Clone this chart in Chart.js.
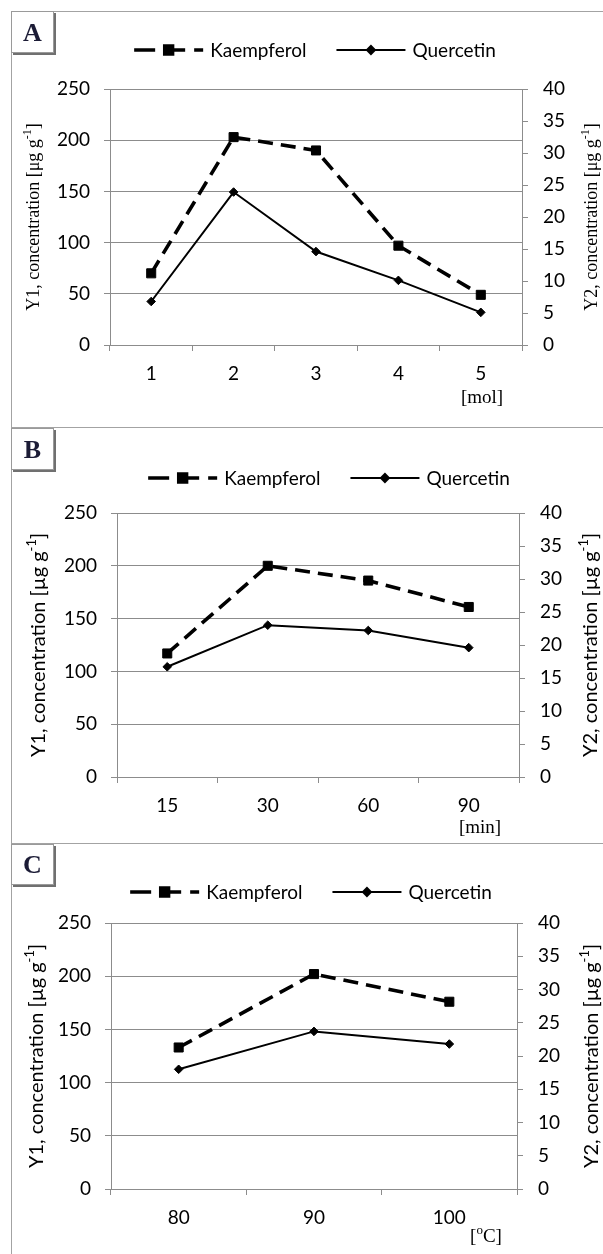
<!DOCTYPE html>
<html>
<head>
<meta charset="utf-8">
<title>Kaempferol and Quercetin concentration</title>
<script src="https://cdn.jsdelivr.net/npm/chart.js@4.4.1/dist/chart.umd.min.js"></script>
<style>
  body { margin: 0; background: #fff; }
  #page { position: relative; width: 603px; height: 1254px; overflow: hidden; background: #fff; }
  .panel { position: absolute; left: 0; width: 603px; }
  .panel canvas { display: block; }
  .rule { position: absolute; background: #a3a3a3; }
  .tag {
    position: absolute; left: 11px; width: 43px; box-sizing: border-box;
    border: 1px solid #9a9a9a; box-shadow: 2px 2px 0 #707070; background: #fff;
    font: bold 26px "Liberation Serif", serif; color: #1c1c36; text-align: center;
  }
</style>
</head>
<body>
<div id="page">
  <div class="panel" style="top:13px"><canvas id="chartA" width="603" height="413"></canvas></div>
  <div class="panel" style="top:428px"><canvas id="chartB" width="603" height="414"></canvas></div>
  <div class="panel" style="top:844px"><canvas id="chartC" width="603" height="410"></canvas></div>

  <div class="rule" style="left:11px;top:11px;width:1px;height:1243px"></div>
  <div class="rule" style="left:11px;top:11px;width:592px;height:1px"></div>
  <div class="rule" style="left:11px;top:427px;width:592px;height:1px"></div>
  <div class="rule" style="left:11px;top:843px;width:592px;height:1px"></div>

  <div class="tag" style="top:11px;height:42px;line-height:41px">A</div>
  <div class="tag" style="top:428px;height:42px;line-height:41px">B</div>
  <div class="tag" style="top:844px;height:41px;line-height:40px">C</div>
</div>

<script>
// Data
const seriesNames = ['Kaempferol', 'Quercetin'];

// A: molar concentration [mol]
const molLabels = ['1', '2', '3', '4', '5'];
const molKaempferol = [70, 203, 190, 97, 49];     // Y1
const molQuercetin = [6.8, 23.9, 14.6, 10.1, 5.1]; // Y2

// B: time [min]
const timeLabels = ['15', '30', '60', '90'];
const timeKaempferol = [117, 200, 186, 161];
const timeQuercetin = [16.7, 23.0, 22.2, 19.6];

// C: temperature [oC]
const tempLabels = ['80', '90', '100'];
const tempKaempferol = [133, 202, 176];
const tempQuercetin = [18.0, 23.7, 21.8];

// Axis ticks
const y1Ticks = [0, 50, 100, 150, 200, 250];
const y2Ticks = [0, 5, 10, 15, 20, 25, 30, 35, 40];

const SANS = 'Lato, "Open Sans", sans-serif';
const SERIF = '"Liberation Serif", "DejaVu Serif", serif';
const GRID = '#8c8c8c';

// split "abc^{-1}]" into normal / superscript pieces
function richParts(str) {
    return str.split(/(\^\{[^}]*\})/).filter(Boolean).map(function(s) {
        if (s.indexOf('^{') === 0) return { text: s.slice(2, -1), sup: true };
        return { text: s, sup: false };
    });
}

function drawRich(ctx, str, x, y, angle, family, size) {
    const parts = richParts(str);
    const small = Math.round(size * 0.66);
    let total = 0;
    parts.forEach(function(p) {
        ctx.font = (p.sup ? small : size) + 'px ' + family;
        p.w = ctx.measureText(p.text).width;
        total += p.w;
    });
    ctx.save();
    ctx.translate(x, y);
    ctx.rotate(angle);
    ctx.fillStyle = '#000';
    ctx.textBaseline = 'middle';
    ctx.textAlign = 'left';
    let cx = -total / 2;
    parts.forEach(function(p) {
        ctx.font = (p.sup ? small : size) + 'px ' + family;
        ctx.fillText(p.text, cx, p.sup ? -size * 0.36 : 0);
        cx += p.w;
    });
    ctx.restore();
}

// legend, rotated axis titles and unit label
const panelDecor = {
    id: 'panelDecor',
    afterDraw(chart, args, opts) {
        const ctx = chart.ctx;
        const area = chart.chartArea;
        const midY = (area.top + area.bottom) / 2;
        ctx.save();
        ctx.fillStyle = '#000';

        // legend
        const symW = 69, gapText = 7, gapItem = 30;
        ctx.font = opts.legendSize + 'px ' + SANS;
        const items = chart.data.datasets.map(function(ds) {
            return { ds: ds, w: ctx.measureText(ds.label).width };
        });
        let total = 0;
        items.forEach(function(it, i) { total += symW + gapText + it.w + (i ? gapItem : 0); });
        let x = opts.legendX - total / 2;
        const ly = opts.legendY;
        items.forEach(function(it) {
            const ds = it.ds;
            ctx.save();
            ctx.strokeStyle = ds.borderColor;
            ctx.lineWidth = ds.borderWidth;
            ctx.setLineDash(ds.legendDash || []);
            ctx.beginPath();
            ctx.moveTo(x, ly);
            ctx.lineTo(x + symW, ly);
            ctx.stroke();
            ctx.setLineDash([]);
            ctx.fillStyle = ds.pointBackgroundColor;
            ctx.strokeStyle = ds.pointBorderColor;
            Chart.helpers.drawPoint(ctx, {
                pointStyle: ds.pointStyle, radius: ds.legendRadius, rotation: 0, borderWidth: 1
            }, x + symW / 2, ly);
            ctx.restore();
            ctx.fillStyle = '#000';
            ctx.font = opts.legendSize + 'px ' + SANS;
            ctx.textBaseline = 'middle';
            ctx.textAlign = 'left';
            ctx.fillText(ds.label, x + symW + gapText, ly + 1);
            x += symW + gapText + it.w + gapItem;
        });

        // axis titles, both reading bottom to top
        drawRich(ctx, opts.y1Title, opts.y1X, midY, -Math.PI / 2, opts.titleFamily, opts.titleSize);
        drawRich(ctx, opts.y2Title, opts.y2X, midY, -Math.PI / 2, opts.titleFamily, opts.titleSize);

        // unit under the x axis
        drawRich(ctx, opts.unit, opts.unitX, opts.unitY, 0, SERIF, 19);
        ctx.restore();
    }
};

const panels = [
    { id: 'chartA', labels: molLabels, k: molKaempferol, q: molQuercetin,
      padTop: 76, xHeight: 81, yWidth: 110, y2Width: 81,
      legendX: 315, legendY: 37, legendSize: 19, y1X: 34, y2X: 592, titleFamily: SERIF, titleSize: 18,
      y1Title: 'Y1, concentration [\u03bcg g^{-1}]', y2Title: 'Y2, concentration [\u03bcg g^{-1}]',
      unit: '[mol]', unitX: 482, unitY: 385 },
    { id: 'chartB', labels: timeLabels, k: timeKaempferol, q: timeQuercetin,
      padTop: 85, xHeight: 65, yWidth: 117, y2Width: 84,
      legendX: 329, legendY: 50, legendSize: 19, y1X: 39, y2X: 591, titleFamily: SANS, titleSize: 20,
      y1Title: 'Y1, concentration [\u00b5g g^{-1}]', y2Title: 'Y2, concentration [\u00b5g g^{-1}]',
      unit: '[min]', unitX: 480, unitY: 400 },
    { id: 'chartC', labels: tempLabels, k: tempKaempferol, q: tempQuercetin,
      padTop: 79, xHeight: 65, yWidth: 111, y2Width: 86,
      legendX: 311, legendY: 48, legendSize: 19, y1X: 37, y2X: 592, titleFamily: SANS, titleSize: 20,
      y1Title: 'Y1, concentration [\u00b5g g^{-1}]', y2Title: 'Y2, concentration [\u00b5g g^{-1}]',
      unit: '[^{o}C]', unitX: 486, unitY: 393 }
];

function buildChart(p) {
    const tickFont = { family: SANS, size: 19 };
    return new Chart(document.getElementById(p.id), {
        type: 'line',
        data: {
            labels: p.labels,
            datasets: [
                {
                    label: seriesNames[0], data: p.k, yAxisID: 'y',
                    borderColor: '#000', borderWidth: 3.6, borderDash: [15, 8], legendDash: [21, 9],
                    pointStyle: 'rect', pointRadius: 6.4, legendRadius: 5.5,
                    pointBackgroundColor: '#000', pointBorderColor: '#000', pointBorderWidth: 1,
                    tension: 0, fill: false
                },
                {
                    label: seriesNames[1], data: p.q, yAxisID: 'y2',
                    borderColor: '#000', borderWidth: 2, borderDash: [],
                    pointStyle: 'rectRot', pointRadius: 4.3, legendRadius: 4,
                    pointBackgroundColor: '#000', pointBorderColor: '#000', pointBorderWidth: 1,
                    tension: 0, fill: false
                }
            ]
        },
        options: {
            responsive: false,
            animation: false,
            devicePixelRatio: 1,
            layout: { padding: { top: p.padTop, left: 0, right: 0, bottom: 0 } },
            plugins: {
                legend: { display: false },
                tooltip: { enabled: false },
                panelDecor: p
            },
            scales: {
                x: {
                    type: 'category',
                    offset: true,
                    grid: { display: true, drawOnChartArea: false, offset: true, tickLength: 6, color: GRID },
                    border: { color: GRID },
                    ticks: { font: tickFont, color: '#000', padding: 11, maxRotation: 0 },
                    afterFit: function(s) { s.height = p.xHeight; }
                },
                y: {
                    position: 'left',
                    min: y1Ticks[0], max: y1Ticks[y1Ticks.length - 1],
                    ticks: { stepSize: y1Ticks[1] - y1Ticks[0], font: tickFont, color: '#000', padding: 14 },
                    grid: { color: GRID, tickLength: 6 },
                    border: { color: GRID },
                    afterFit: function(s) { s.width = p.yWidth; }
                },
                y2: {
                    position: 'right',
                    min: y2Ticks[0], max: y2Ticks[y2Ticks.length - 1],
                    ticks: { stepSize: y2Ticks[1] - y2Ticks[0], font: tickFont, color: '#000', padding: 15 },
                    grid: { drawOnChartArea: false, color: GRID, tickLength: 6 },
                    border: { color: GRID },
                    afterFit: function(s) { s.width = p.y2Width; }
                }
            }
        },
        plugins: [panelDecor]
    });
}

panels.forEach(buildChart);
</script>
</body>
</html>
